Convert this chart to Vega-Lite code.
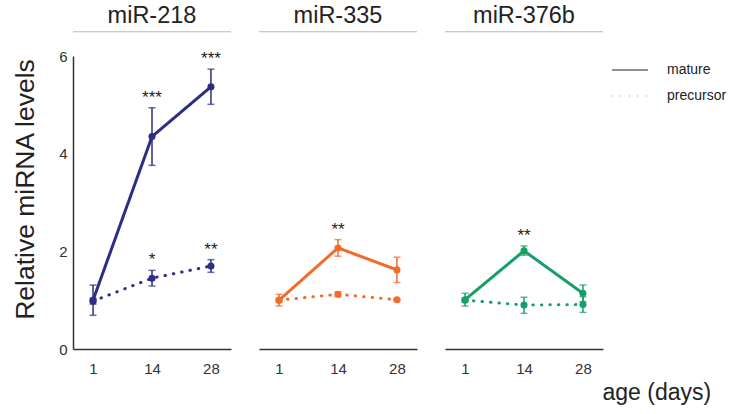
{
  "$schema": "https://vega.github.io/schema/vega-lite/v6.json",
  "background": "white",
  "padding": {"left": 12, "top": 3, "right": 5, "bottom": 5},
  "config": {
    "font": "Liberation Sans",
    "view": {"stroke": null},
    "concat": {"spacing": 26},
    "title": {"fontSize": 23.5, "fontWeight": "normal", "color": "#222222", "offset": 4},
    "axisY": {
      "ticks": false, "grid": false, "tickCount": 4,
      "labelFontSize": 15, "labelColor": "#333333", "labelPadding": 6,
      "domainColor": "#333333", "domainWidth": 1.5,
      "titleFontSize": 26.5, "titleFontWeight": "normal", "titleColor": "#222222",
      "titlePadding": 19, "titleY": 133
    },
    "axisX": {
      "ticks": false, "grid": false, "labelAngle": 0,
      "labelFontSize": 15, "labelColor": "#333333", "labelPadding": 12,
      "domainColor": "#333333", "domainWidth": 1.5,
      "titleFontSize": 23, "titleFontWeight": "normal", "titleColor": "#222222",
      "titleX": 157, "titleY": 50, "titleAlign": "left", "titleBaseline": "alphabetic"
    }
  },
  "datasets": {
    "levels": [
      {"mir": "miR-218", "type": "mature", "age": "1", "value": 1.00, "lo": 0.69, "hi": 1.31, "sig": ""},
      {"mir": "miR-218", "type": "mature", "age": "14", "value": 4.35, "lo": 3.76, "hi": 4.94, "sig": "***"},
      {"mir": "miR-218", "type": "mature", "age": "28", "value": 5.37, "lo": 5.01, "hi": 5.73, "sig": "***"},
      {"mir": "miR-218", "type": "precursor", "age": "1", "value": 0.98, "lo": 0.92, "hi": 1.04, "sig": ""},
      {"mir": "miR-218", "type": "precursor", "age": "14", "value": 1.45, "lo": 1.29, "hi": 1.61, "sig": "*"},
      {"mir": "miR-218", "type": "precursor", "age": "28", "value": 1.70, "lo": 1.57, "hi": 1.83, "sig": "**"},
      {"mir": "miR-335", "type": "mature", "age": "1", "value": 1.00, "lo": 0.88, "hi": 1.12, "sig": ""},
      {"mir": "miR-335", "type": "mature", "age": "14", "value": 2.07, "lo": 1.90, "hi": 2.24, "sig": "**"},
      {"mir": "miR-335", "type": "mature", "age": "28", "value": 1.62, "lo": 1.36, "hi": 1.88, "sig": ""},
      {"mir": "miR-335", "type": "precursor", "age": "1", "value": 1.00, "lo": 0.96, "hi": 1.04, "sig": ""},
      {"mir": "miR-335", "type": "precursor", "age": "14", "value": 1.12, "lo": 1.07, "hi": 1.17, "sig": ""},
      {"mir": "miR-335", "type": "precursor", "age": "28", "value": 1.01, "lo": 1.00, "hi": 1.02, "sig": ""},
      {"mir": "miR-376b", "type": "mature", "age": "1", "value": 1.01, "lo": 0.88, "hi": 1.14, "sig": ""},
      {"mir": "miR-376b", "type": "mature", "age": "14", "value": 2.01, "lo": 1.92, "hi": 2.11, "sig": "**"},
      {"mir": "miR-376b", "type": "mature", "age": "28", "value": 1.14, "lo": 0.97, "hi": 1.31, "sig": ""},
      {"mir": "miR-376b", "type": "precursor", "age": "1", "value": 1.00, "lo": 0.96, "hi": 1.04, "sig": ""},
      {"mir": "miR-376b", "type": "precursor", "age": "14", "value": 0.90, "lo": 0.73, "hi": 1.06, "sig": ""},
      {"mir": "miR-376b", "type": "precursor", "age": "28", "value": 0.91, "lo": 0.75, "hi": 1.07, "sig": ""}
    ]
  },
  "resolve": {"legend": {"strokeDash": "independent"}},
  "hconcat": [
    {
      "width": 158, "height": 293,
      "title": "miR-218",
      "data": {"name": "levels"},
      "transform": [{"filter": "datum.mir === 'miR-218'"}],
      "layer": [
        {
          "mark": {"type": "rule", "color": "#c9c9dc", "strokeWidth": 1},
          "encoding": {"y": {"datum": 6.5, "type": "quantitative", "scale": {"domain": [0, 6]}, "title": "Relative miRNA levels"}}
        },
        {
          "mark": {"type": "line", "strokeWidth": 3, "strokeCap": "round"},
          "encoding": {
            "x": {"field": "age", "type": "ordinal", "sort": ["1", "14", "28"], "scale": {"type": "point", "padding": 0.34}, "title": null},
            "y": {"field": "value", "type": "quantitative", "scale": {"domain": [0, 6]}, "title": "Relative miRNA levels"},
            "color": {"field": "mir", "type": "nominal", "scale": {"domain": ["miR-218", "miR-335", "miR-376b"], "range": ["#2b2e83", "#f26b2a", "#179f68"]}, "legend": null},
            "strokeDash": {"field": "type", "type": "nominal", "scale": {"domain": ["mature", "precursor"], "range": [[1, 0], [0.5, 8]]}, "legend": null}
          }
        },
        {
          "mark": {"type": "rule", "strokeWidth": 1.5},
          "encoding": {
            "x": {"field": "age", "type": "ordinal", "sort": ["1", "14", "28"], "scale": {"type": "point", "padding": 0.34}, "title": null},
            "y": {"field": "lo", "type": "quantitative", "scale": {"domain": [0, 6]}, "title": "Relative miRNA levels"},
            "y2": {"field": "hi"},
            "color": {"field": "mir", "type": "nominal", "legend": null}
          }
        },
        {
          "mark": {"type": "tick", "thickness": 1.5, "size": 7},
          "encoding": {
            "x": {"field": "age", "type": "ordinal", "sort": ["1", "14", "28"], "scale": {"type": "point", "padding": 0.34}, "title": null},
            "y": {"field": "lo", "type": "quantitative", "scale": {"domain": [0, 6]}, "title": "Relative miRNA levels"},
            "color": {"field": "mir", "type": "nominal", "legend": null}
          }
        },
        {
          "mark": {"type": "tick", "thickness": 1.5, "size": 7},
          "encoding": {
            "x": {"field": "age", "type": "ordinal", "sort": ["1", "14", "28"], "scale": {"type": "point", "padding": 0.34}, "title": null},
            "y": {"field": "hi", "type": "quantitative", "scale": {"domain": [0, 6]}, "title": "Relative miRNA levels"},
            "color": {"field": "mir", "type": "nominal", "legend": null}
          }
        },
        {
          "mark": {"type": "point", "filled": true, "opacity": 1, "size": 50},
          "encoding": {
            "x": {"field": "age", "type": "ordinal", "sort": ["1", "14", "28"], "scale": {"type": "point", "padding": 0.34}, "title": null},
            "y": {"field": "value", "type": "quantitative", "scale": {"domain": [0, 6]}, "title": "Relative miRNA levels"},
            "color": {"field": "mir", "type": "nominal", "legend": null}
          }
        },
        {
          "mark": {"type": "text", "fontSize": 17, "color": "#222222", "dy": -5, "baseline": "alphabetic"},
          "encoding": {
            "x": {"field": "age", "type": "ordinal", "sort": ["1", "14", "28"], "scale": {"type": "point", "padding": 0.34}, "title": null},
            "y": {"field": "hi", "type": "quantitative", "scale": {"domain": [0, 6]}, "title": "Relative miRNA levels"},
            "text": {"field": "sig"}
          }
        }
      ]
    },
    {
      "width": 158, "height": 293,
      "title": "miR-335",
      "data": {"name": "levels"},
      "transform": [{"filter": "datum.mir === 'miR-335'"}],
      "layer": [
        {
          "mark": {"type": "rule", "color": "#c9c9c9", "strokeWidth": 1},
          "encoding": {"y": {"datum": 6.5, "type": "quantitative", "scale": {"domain": [0, 6]}, "axis": null}}
        },
        {
          "mark": {"type": "line", "strokeWidth": 3, "strokeCap": "round"},
          "encoding": {
            "x": {"field": "age", "type": "ordinal", "sort": ["1", "14", "28"], "scale": {"type": "point", "padding": 0.34}, "title": null},
            "y": {"field": "value", "type": "quantitative", "scale": {"domain": [0, 6]}, "axis": null},
            "color": {"field": "mir", "type": "nominal", "scale": {"domain": ["miR-218", "miR-335", "miR-376b"], "range": ["#2b2e83", "#f26b2a", "#179f68"]}, "legend": null},
            "strokeDash": {"field": "type", "type": "nominal", "scale": {"domain": ["mature", "precursor"], "range": [[1, 0], [0.5, 8]]}, "legend": null}
          }
        },
        {
          "mark": {"type": "rule", "strokeWidth": 1.5},
          "encoding": {
            "x": {"field": "age", "type": "ordinal", "sort": ["1", "14", "28"], "scale": {"type": "point", "padding": 0.34}, "title": null},
            "y": {"field": "lo", "type": "quantitative", "scale": {"domain": [0, 6]}, "axis": null},
            "y2": {"field": "hi"},
            "color": {"field": "mir", "type": "nominal", "legend": null}
          }
        },
        {
          "mark": {"type": "tick", "thickness": 1.5, "size": 7},
          "encoding": {
            "x": {"field": "age", "type": "ordinal", "sort": ["1", "14", "28"], "scale": {"type": "point", "padding": 0.34}, "title": null},
            "y": {"field": "lo", "type": "quantitative", "scale": {"domain": [0, 6]}, "axis": null},
            "color": {"field": "mir", "type": "nominal", "legend": null}
          }
        },
        {
          "mark": {"type": "tick", "thickness": 1.5, "size": 7},
          "encoding": {
            "x": {"field": "age", "type": "ordinal", "sort": ["1", "14", "28"], "scale": {"type": "point", "padding": 0.34}, "title": null},
            "y": {"field": "hi", "type": "quantitative", "scale": {"domain": [0, 6]}, "axis": null},
            "color": {"field": "mir", "type": "nominal", "legend": null}
          }
        },
        {
          "mark": {"type": "point", "filled": true, "opacity": 1, "size": 50},
          "encoding": {
            "x": {"field": "age", "type": "ordinal", "sort": ["1", "14", "28"], "scale": {"type": "point", "padding": 0.34}, "title": null},
            "y": {"field": "value", "type": "quantitative", "scale": {"domain": [0, 6]}, "axis": null},
            "color": {"field": "mir", "type": "nominal", "legend": null}
          }
        },
        {
          "mark": {"type": "text", "fontSize": 17, "color": "#222222", "dy": -5, "baseline": "alphabetic"},
          "encoding": {
            "x": {"field": "age", "type": "ordinal", "sort": ["1", "14", "28"], "scale": {"type": "point", "padding": 0.34}, "title": null},
            "y": {"field": "hi", "type": "quantitative", "scale": {"domain": [0, 6]}, "axis": null},
            "text": {"field": "sig"}
          }
        }
      ]
    },
    {
      "width": 158, "height": 293,
      "title": "miR-376b",
      "data": {"name": "levels"},
      "transform": [{"filter": "datum.mir === 'miR-376b'"}],
      "layer": [
        {
          "mark": {"type": "rule", "color": "#c9c9c9", "strokeWidth": 1},
          "encoding": {"y": {"datum": 6.5, "type": "quantitative", "scale": {"domain": [0, 6]}, "axis": null}}
        },
        {
          "mark": {"type": "line", "strokeWidth": 3, "strokeCap": "round"},
          "encoding": {
            "x": {"field": "age", "type": "ordinal", "sort": ["1", "14", "28"], "scale": {"type": "point", "padding": 0.34}, "title": "age (days)"},
            "y": {"field": "value", "type": "quantitative", "scale": {"domain": [0, 6]}, "axis": null},
            "color": {"field": "mir", "type": "nominal", "scale": {"domain": ["miR-218", "miR-335", "miR-376b"], "range": ["#2b2e83", "#f26b2a", "#179f68"]}, "legend": null},
            "strokeDash": {
              "field": "type", "type": "nominal",
              "scale": {"domain": ["mature", "precursor"], "range": [[1, 0], [0.5, 8]]},
              "legend": {
                "title": null, "orient": "none", "legendX": 166, "legendY": -5,
                "symbolType": "stroke", "symbolStrokeColor": "#222222", "symbolStrokeWidth": 1.2,
                "symbolSize": 1300, "labelFontSize": 14, "labelColor": "#222222", "labelOffset": 18,
                "rowPadding": -3, "padding": 0
              }
            }
          }
        },
        {
          "mark": {"type": "rule", "strokeWidth": 1.5},
          "encoding": {
            "x": {"field": "age", "type": "ordinal", "sort": ["1", "14", "28"], "scale": {"type": "point", "padding": 0.34}, "title": "age (days)"},
            "y": {"field": "lo", "type": "quantitative", "scale": {"domain": [0, 6]}, "axis": null},
            "y2": {"field": "hi"},
            "color": {"field": "mir", "type": "nominal", "legend": null}
          }
        },
        {
          "mark": {"type": "tick", "thickness": 1.5, "size": 7},
          "encoding": {
            "x": {"field": "age", "type": "ordinal", "sort": ["1", "14", "28"], "scale": {"type": "point", "padding": 0.34}, "title": "age (days)"},
            "y": {"field": "lo", "type": "quantitative", "scale": {"domain": [0, 6]}, "axis": null},
            "color": {"field": "mir", "type": "nominal", "legend": null}
          }
        },
        {
          "mark": {"type": "tick", "thickness": 1.5, "size": 7},
          "encoding": {
            "x": {"field": "age", "type": "ordinal", "sort": ["1", "14", "28"], "scale": {"type": "point", "padding": 0.34}, "title": "age (days)"},
            "y": {"field": "hi", "type": "quantitative", "scale": {"domain": [0, 6]}, "axis": null},
            "color": {"field": "mir", "type": "nominal", "legend": null}
          }
        },
        {
          "mark": {"type": "point", "filled": true, "opacity": 1, "size": 50},
          "encoding": {
            "x": {"field": "age", "type": "ordinal", "sort": ["1", "14", "28"], "scale": {"type": "point", "padding": 0.34}, "title": "age (days)"},
            "y": {"field": "value", "type": "quantitative", "scale": {"domain": [0, 6]}, "axis": null},
            "color": {"field": "mir", "type": "nominal", "legend": null}
          }
        },
        {
          "mark": {"type": "text", "fontSize": 17, "color": "#222222", "dy": -5, "baseline": "alphabetic"},
          "encoding": {
            "x": {"field": "age", "type": "ordinal", "sort": ["1", "14", "28"], "scale": {"type": "point", "padding": 0.34}, "title": "age (days)"},
            "y": {"field": "hi", "type": "quantitative", "scale": {"domain": [0, 6]}, "axis": null},
            "text": {"field": "sig"}
          }
        }
      ]
    }
  ]
}
